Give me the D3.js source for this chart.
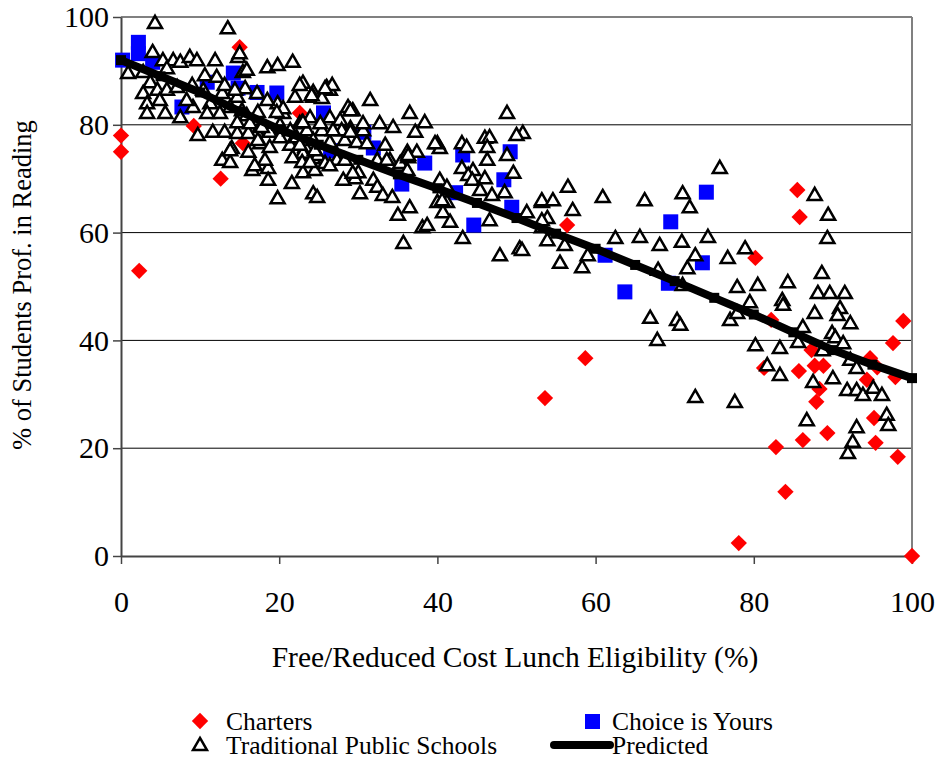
<!DOCTYPE html>
<html>
<head>
<meta charset="utf-8">
<script src="https://cdn.jsdelivr.net/npm/d3@7"></script>
<style>
  body { margin: 0; background: #fff; }
  svg text { font-family: "Liberation Serif", Tinos, "Times New Roman", Times, "DejaVu Serif", serif; fill: #000; }
</style>
</head>
<body>
<div class="chart"></div>
<script>
const w = 940, h = 761;

// x = Free/Reduced lunch eligibility (%), y = % proficient in reading
const charters = [[0,78],[0,75],[2.3,52.9],[9.2,79.8],[12.6,70],[15,94.4],[15.4,76.6],[22.6,82.2],
  [53.6,29.3],[56.4,61.4],[58.7,36.7],[78.1,2.4],[80.2,55.3],[81.3,34.9],[82.2,43.8],[82.8,20.2],
  [84,11.9],[85.5,67.9],[85.8,62.9],[85.7,34.3],[86.2,21.5],[87.3,38.2],[87.7,35.3],[88.8,35.3],
  [88.3,31],[87.9,28.6],[89.3,22.8],[94.3,32.7],[94.7,36.7],[95.6,35],[95.2,25.6],[95.4,21],
  [97.6,39.5],[97.9,33.2],[98.2,18.4],[98.9,43.6],[100,0]];

const choice = [[0.2,92],[2.2,95.3],[2.2,93.2],[4,91.6],[7.7,83.3],[10.9,87.9],[14.2,89.6],[14.8,86.8],
  [17.2,86],[19.7,85.9],[25.6,82.2],[26.5,75.2],[30.7,78.6],[31.9,75.7],[35.5,69],[38.4,72.9],
  [42.3,67.4],[43.2,74.4],[44.6,61.4],[48.4,69.8],[49.2,75],[49.4,64.7],[61.2,55.8],[63.7,49],
  [69.2,50.6],[69.5,62],[73.5,54.4],[74,67.5]];

const traditional = [
  [4.3,98.9],[13.5,97.9],[4.0,93.5],[5.3,92],[0.9,89.6],[2.8,89.8],[6.6,92],[7.5,91.7],[8.7,92.6],
  [9.6,92],[10.6,89.2],[11.9,92],[14.8,92.6],[15.4,89.8],[5.8,90.5],[3.7,87.9],[2.8,85.9],[4.6,86.5],
  [5.8,86.5],[7.1,87],[9,87.4],[3.3,84],[4.9,84.6],[3.3,82.2],[5.6,82.2],[7.5,81.4],[9.1,83.3],
  [11.3,84],[10.9,82.2],[8.3,84.6],[12.8,85.9],[10.4,86.5],[12.1,88.9],[13.1,87.4],[14.7,85.2],
  [13.8,83.3],[12.5,82.2],[15.3,82.7],[9.7,78.1],[11.6,78.7],[13.1,78.7],[14.7,78.5],[15.7,86.8],
  [14,75.7],[12.8,73.5],[13.8,73.1],[16.6,71.6],[18.6,72],[18.6,69.8],[21.6,69.2],[19.8,66.4],
  [16.1,75],[18.2,73.5],[21.4,76.3],[23.3,75.9],[18.5,90.7],[19.8,91.1],[21.7,91.7],[15.9,90.2],
  [23,87.8],[24.3,86.1],[22,85.2],[19.8,84],[20.5,82.2],[22.6,80.3],[23.5,79],[17.3,82.4],[17.2,78.7],
  [18.8,78.7],[20.1,77.7],[22.2,77.7],[16.1,78.5],[17.6,76.6],[23.3,73.5],[24.3,73.8],[23,71.2],
  [24.5,71.6],[24.3,67.3],
  [15,93.3],[26,87],[26.4,86.5],[24.3,85.2],[25.4,85],[31.5,84.6],[14.4,86.5],[17.2,85.9],[18.5,84.6],
  [20.5,83.1],[28.7,83.3],[29.3,82.7],[26.4,81.4],[27.7,80],[29,79.4],[30.6,79],[23.9,81.4],[22.9,80.5],
  [25.4,79],[19.7,82.4],[15.9,81.8],[14.7,80.5],[16.3,80.3],[17.8,79.6],[20.1,80],[21.4,79],[24.3,77.2],
  [26.4,76.8],[28.3,77.2],[29.8,76.8],[31.1,76.6],[23,74.8],[24.9,74.4],[18.8,75.9],[17.3,77.2],
  [16.9,72.5],[13.8,75.3],[21.7,74],[22.9,73.1],[27.3,73.5],[25.8,72.9],
  [22.6,87.4],[24.1,85.5],[26.7,87.4],[25.8,86.8],[36.5,82.2],[38.4,80.5],[37.2,78.7],[34.4,79.6],
  [32.7,80.3],[30.6,80.3],[29,82.7],[27.7,80.9],[27.9,79],[29,78.7],[48.8,82.2],[50.8,78.5],[40,76.6],
  [40.3,75.7],[43.1,76.6],[43.7,75.9],[46,77.6],[46.6,77.7],[46.3,75.9],[46.3,73.5],[48.8,74.4],
  [49.6,71.1],[44.5,71.6],[43.1,72],[43.9,70.7],[44.4,69.8],[46,70.1],[45.4,67.9],[46.9,67],[48.5,67.5],
  [40.3,69.8],[41.2,68.5],[41.2,65.7],[40,65.7],[40.7,63.8],[41.6,62],[38.1,61],[38.7,61.4],[36.2,75],
  [37.4,75],[33.4,76.3],[34,73.5],[35.3,72.9],[36.3,74],[36.2,71.6],[32.4,73.5],[30,71.2],[29.6,70.1],
  [28.1,69.8],[31.9,69.8],[32.4,68.5],[33.1,67],[34.3,66.6],[30.2,67.3],[24.8,66.6],[36.5,64.7],
  [35,63.3],[35.7,58.1],[43.2,59],[46.6,62.3],[47.9,55.8],[50.4,57.1],[51.3,63.8],[53.2,65.7],
  [53.9,62.7],[53.2,61],[53.9,58.6],[23.9,73.1],[26.4,72.5],[28.3,73.5],[24.5,75.3],[22.6,76.3],
  [26.8,79],[25.2,80.3],[23,80.5],[50,78.1],[39.7,76.6],[29.3,71.1],[40.6,66],[33.6,73.5],[36.3,74.4],
  [56.5,68.5],[53.2,66],[54.6,66],[60.9,66.6],[66.2,66],[71,67.3],[71.9,64.7],[75.7,72],[57.1,64.2],
  [53.2,62.3],[56.1,57.7],[55.5,54.4],[58.3,53.6],[59,55.8],[62.5,59],[65.6,59.2],[68.1,57.7],
  [70.9,58.3],[74.2,59.2],[72.6,55.8],[71.6,53.4],[67.9,53.1],[71,50.3],[76.7,55.3],[77.9,49.9],
  [77,43.8],[66.9,44.2],[70.3,43.8],[70.7,42.9],[67.8,40.1],[50.7,56.8],
  [87.7,67],[89.4,63.3],[89.3,59],[78.9,57.1],[88.6,52.5],[84.3,50.8],[80.5,50.3],[79.5,47.1],
  [83.6,47.5],[83.7,46.6],[88.1,48.8],[89.6,48.8],[91.5,48.8],[90.9,46],[87.7,45.1],[92.2,43.2],
  [77.9,45.1],[86.2,42.5],[89.9,41.4],[90.3,40.6],[85.6,39.7],[91.3,39.5],[88.7,38.2],[80.2,39.1],
  [83.3,38.6],[81.7,35.4],[83.3,33.6],[92.2,36.4],[93,34.9],[87.5,32.3],[90,33],[91.8,30.8],[93,30.8],
  [93.8,29.9],[95.1,31.2],[96.2,29.9],[72.6,29.5],[77.6,28.6],[86.7,25.2],[93,23.9],[92.5,21.2],
  [91.9,19.1],[96.8,26.2],[97,24.3],[90.6,44.7]];

const predicted = [[0,92],[5,89],[10,86],[15,82.5],[20,79.2],[25,76.3],[30,73.5],[35,70.8],[40,68.2],
  [45,65.5],[50,62.7],[55,59.8],[60,57],[65,54],[70,51],[75,47.9],[80,44.8],[85,41.5],[90,38.2],
  [95,35.5],[100,33]];

const ticks = [0, 20, 40, 60, 80, 100];
const gridTicks = [20, 40, 60, 80];
const serif = '"Liberation Serif", Tinos, "Times New Roman", Times, "DejaVu Serif", serif';

const x = d3.scaleLinear().domain([0, 100]).range([121, 912]);
const y = d3.scaleLinear().domain([0, 100]).range([556, 17]);

const svg = d3.select(".chart").append("svg")
    .attr("width", w)
    .attr("height", h);

// gridlines
svg.append("g")
    .selectAll("line")
    .data(gridTicks)
    .enter().append("line")
    .attr("x1", x(0)).attr("x2", x(100))
    .attr("y1", d => y(d)).attr("y2", d => y(d))
    .style("stroke", "#000")
    .style("stroke-width", 1);

// top and right frame
svg.append("line")
    .attr("x1", x(0)).attr("x2", x(100)).attr("y1", y(100)).attr("y2", y(100))
    .style("stroke", "#808080").style("stroke-width", 2);
svg.append("line")
    .attr("x1", x(100)).attr("x2", x(100)).attr("y1", y(100)).attr("y2", y(0))
    .style("stroke", "#808080").style("stroke-width", 2);

// axes
const xAxis = svg.append("g")
    .attr("transform", "translate(0," + y(0) + ")")
    .call(d3.axisBottom(x).tickValues(ticks).tickSize(8).tickPadding(27).tickSizeOuter(0));
const yAxis = svg.append("g")
    .attr("transform", "translate(" + x(0) + ",0)")
    .call(d3.axisLeft(y).tickValues(ticks).tickSize(8).tickPadding(4).tickSizeOuter(0));

[xAxis, yAxis].forEach(function (g) {
    g.select(".domain").style("stroke", "#444").style("stroke-width", 2);
    g.selectAll(".tick line").style("stroke", "#444").style("stroke-width", 1.5);
    g.selectAll(".tick text")
        .style("font-family", serif)
        .style("font-size", "30px")
        .style("fill", "#000");
});

const diamond = d3.symbol().type(d3.symbolDiamond2).size(170);
const triangle = d3.symbol().type(d3.symbolTriangle2).size(140);

// charters
svg.append("g")
    .selectAll("path")
    .data(charters)
    .enter().append("path")
    .attr("d", diamond)
    .attr("transform", d => "translate(" + x(d[0]) + "," + y(d[1]) + ")")
    .style("fill", "#ff0000");

// choice is yours
svg.append("g")
    .selectAll("rect")
    .data(choice)
    .enter().append("rect")
    .attr("x", d => x(d[0]) - 7.5)
    .attr("y", d => y(d[1]) - 7.5)
    .attr("width", 15)
    .attr("height", 15)
    .style("fill", "#0000ff");

// traditional public schools
svg.append("g")
    .selectAll("path")
    .data(traditional)
    .enter().append("path")
    .attr("d", triangle)
    .attr("transform", d => "translate(" + x(d[0]) + "," + (y(d[1]) + 1) + ")")
    .style("fill", "#fff")
    .style("stroke", "#000")
    .style("stroke-width", 2.5);

// predicted
const line = d3.line().x(d => x(d[0])).y(d => y(d[1]));
svg.append("path")
    .datum(predicted)
    .attr("d", line)
    .style("fill", "none")
    .style("stroke", "#000")
    .style("stroke-width", 8);
svg.append("g")
    .selectAll("rect")
    .data(predicted)
    .enter().append("rect")
    .attr("x", d => x(d[0]) - 5)
    .attr("y", d => y(d[1]) - 5)
    .attr("width", 10)
    .attr("height", 10)
    .style("fill", "#000");

// axis titles
svg.append("text")
    .attr("x", 515)
    .attr("y", 667)
    .attr("text-anchor", "middle")
    .style("font-family", serif)
    .style("font-size", "29.5px")
    .text("Free/Reduced Cost Lunch Eligibility (%)");

svg.append("text")
    .attr("transform", "translate(31,285) rotate(-90)")
    .attr("text-anchor", "middle")
    .style("font-family", serif)
    .style("font-size", "26.5px")
    .text("% of Students Prof. in Reading");

// legend
const legend = svg.append("g").style("font-family", serif).style("font-size", "25.5px");
legend.append("path")
    .attr("d", diamond)
    .attr("transform", "translate(200,721)")
    .style("fill", "#ff0000");
legend.append("text").attr("x", 226).attr("y", 730).text("Charters");
legend.append("path")
    .attr("d", triangle)
    .attr("transform", "translate(200,746)")
    .style("fill", "#fff").style("stroke", "#000").style("stroke-width", 2.5);
legend.append("text").attr("x", 226).attr("y", 754).text("Traditional Public Schools");
legend.append("rect")
    .attr("x", 585).attr("y", 714).attr("width", 15).attr("height", 15)
    .style("fill", "#0000ff");
legend.append("text").attr("x", 612).attr("y", 730).text("Choice is Yours");
legend.append("line")
    .attr("x1", 554).attr("x2", 610).attr("y1", 745).attr("y2", 745)
    .style("stroke", "#000").style("stroke-width", 8).style("stroke-linecap", "round");
legend.append("text").attr("x", 612).attr("y", 754).text("Predicted");
</script>
</body>
</html>
